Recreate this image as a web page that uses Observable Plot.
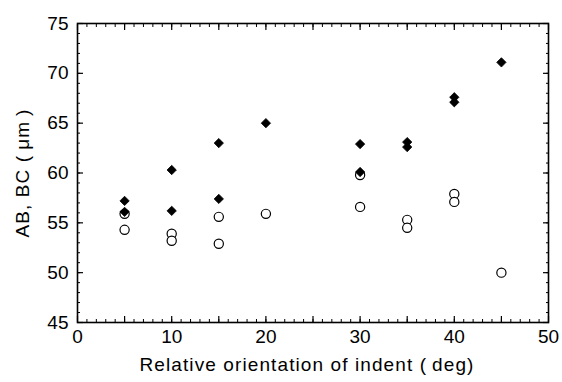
<!DOCTYPE html>
<html>
<head>
<meta charset="utf-8">
<script src="https://cdn.jsdelivr.net/npm/d3@7"></script>
<script src="https://cdn.jsdelivr.net/npm/@observablehq/plot@0.6"></script>
<style>
  html, body { margin: 0; padding: 0; background: #fff; }
  #chart svg { display: block; }
</style>
</head>
<body>
<div id="chart"></div>
<script>
// Relative orientation of indent (deg)
const angleFilled = [5, 5, 10, 10, 15, 15, 20, 30, 30, 35, 35, 40, 40, 45];
const valueFilled = [57.2, 56.1, 60.3, 56.2, 63.0, 57.4, 65.0, 62.9, 60.1, 63.1, 62.6, 67.6, 67.1, 71.1];
const angleOpen = [5, 5, 10, 10, 15, 15, 20, 30, 30, 35, 35, 40, 40, 45];
const valueOpen = [55.9, 54.3, 53.9, 53.2, 55.6, 52.9, 55.9, 59.8, 56.6, 55.3, 54.5, 57.9, 57.1, 50.0];

const xMajor = [0, 10, 20, 30, 40, 50];
const yMajor = [45, 50, 55, 60, 65, 70, 75];
const xLabel = "Relative orientation of indent (\u2009deg)";
const yLabel = "AB, BC (\u2009\u03bcm\u2009)";

const filled = angleFilled.map((a, i) => ({angle: a, value: valueFilled[i]}));
const open = angleOpen.map((a, i) => ({angle: a, value: valueOpen[i]}));

const xMinor = d3.range(0, 51, 1);
const xMid = d3.range(0, 51, 5);
const yMinor = d3.range(45, 76, 1);
const yMid = d3.range(45, 76, 5);
const blank = () => "";

const chart = Plot.plot({
  width: 562,
  height: 382,
  marginLeft: 77,
  marginRight: 14,
  marginTop: 23,
  marginBottom: 60,
  style: {fontFamily: "'Liberation Sans', Arial, sans-serif", background: "#fff", color: "#000"},
  x: {domain: [0, 50]},
  y: {domain: [45, 75]},
  marks: [
    // inward ticks on all four sides
    Plot.axisX({anchor: "bottom", ticks: xMinor, tickSize: -3, tickFormat: blank, label: null, strokeWidth: 1}),
    Plot.axisX({anchor: "bottom", ticks: xMid, tickSize: -6, tickFormat: blank, label: null, strokeWidth: 1.2}),
    Plot.axisX({anchor: "top", ticks: xMinor, tickSize: -3, tickFormat: blank, label: null, strokeWidth: 1}),
    Plot.axisX({anchor: "top", ticks: xMid, tickSize: -6, tickFormat: blank, label: null, strokeWidth: 1.2}),
    Plot.axisY({anchor: "left", ticks: yMinor, tickSize: -3, tickFormat: blank, label: null, strokeWidth: 1}),
    Plot.axisY({anchor: "left", ticks: yMid, tickSize: -6, tickFormat: blank, label: null, strokeWidth: 1.2}),
    Plot.axisY({anchor: "right", ticks: yMinor, tickSize: -3, tickFormat: blank, label: null, strokeWidth: 1}),
    Plot.axisY({anchor: "right", ticks: yMid, tickSize: -6, tickFormat: blank, label: null, strokeWidth: 1.2}),
    // tick labels
    Plot.axisX({anchor: "bottom", ticks: xMajor, tickSize: 0, tickPadding: 7, fontSize: 19, label: null, tickFormat: d3.format("d")}),
    Plot.axisY({anchor: "left", ticks: yMajor, tickSize: 0, tickPadding: 9, fontSize: 19, label: null, tickFormat: d3.format("d")}),
    Plot.frame({stroke: "#000", strokeWidth: 1.6}),
    // axis titles
    Plot.text([xLabel], {text: d => d, frameAnchor: "bottom", dy: 48, dx: -6, fontSize: 19, fill: "#000", textAnchor: "middle"}),
    Plot.text([yLabel], {text: d => d, frameAnchor: "left", rotate: -90, dx: -55, fontSize: 19, fill: "#000", textAnchor: "middle"}),
    // data
    Plot.dot(open, {x: "angle", y: "value", symbol: "circle", r: 4.6, fill: "#fff", stroke: "#000", strokeWidth: 1.2}),
    Plot.dot(filled, {x: "angle", y: "value", symbol: "diamond2", r: 4.2, fill: "#000", stroke: "#000", strokeWidth: 0.8})
  ]
});
// letter spacing for axis titles
chart.querySelectorAll("text").forEach(t => {
  if (t.textContent === xLabel || t.textContent === yLabel) t.setAttribute("letter-spacing", "1.1");
});
document.getElementById("chart").appendChild(chart);
</script>
</body>
</html>
